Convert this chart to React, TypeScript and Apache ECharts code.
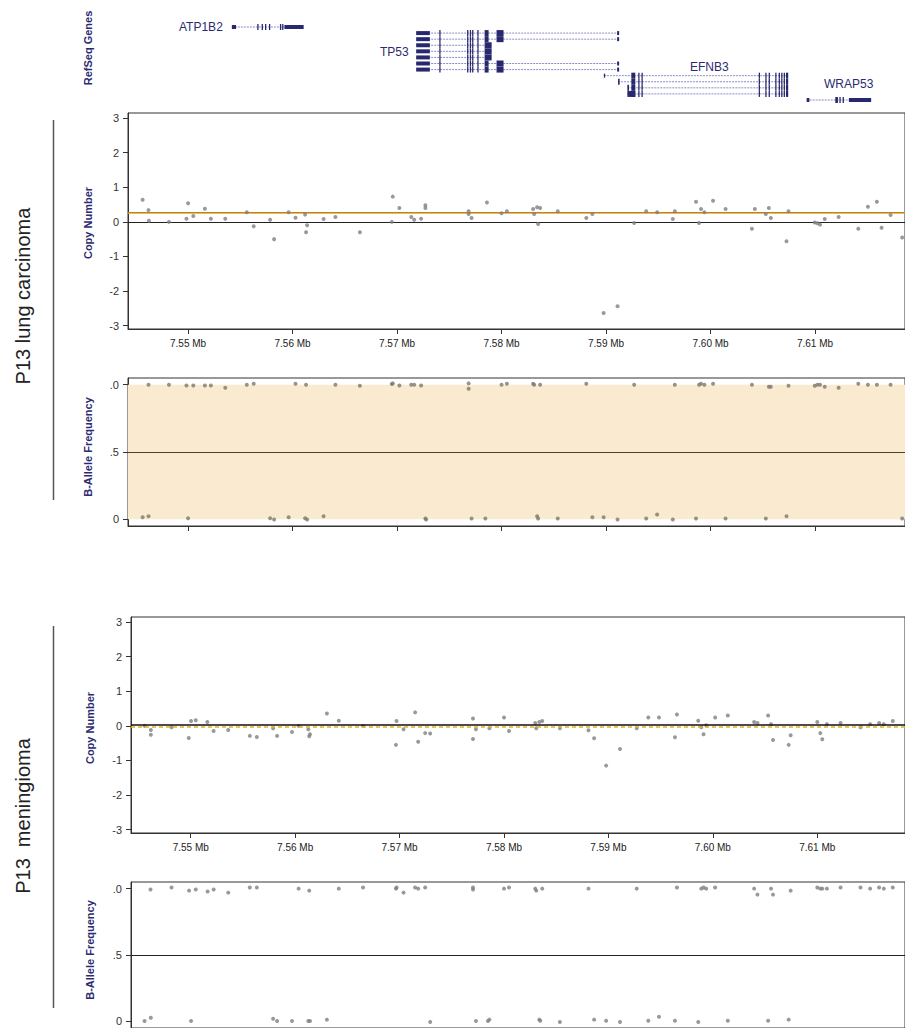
import React, { useEffect, useRef } from 'react';
import * as echarts from 'echarts';

// ---------- tick values ----------
const xTicks = [7550, 7560, 7570, 7580, 7590, 7600, 7610]; // kb
const cnTicks = [-3, -2, -1, 0, 1, 2, 3];
const bafTicks = [0, 0.5, 1];
const bafTickLabels = ['0', '.5', '.0'];

// ---------- P13 lung carcinoma ----------
const lungCN: number[][] = [
  [7545.65, 0.64], [7546.21, 0.34], [7546.25, 0.03], [7548.17, 0.0], [7549.84, 0.09],
  [7550.0, 0.54], [7550.5, 0.17], [7551.61, 0.38], [7552.18, 0.09], [7553.56, 0.09],
  [7555.62, 0.28], [7556.28, -0.13], [7557.85, 0.06], [7558.23, -0.5], [7559.62, 0.28],
  [7560.28, 0.12], [7561.2, 0.21], [7561.39, -0.1], [7561.29, -0.3], [7562.97, 0.08],
  [7564.1, 0.14], [7566.44, -0.3], [7569.5, 0.0], [7569.59, 0.73], [7570.22, 0.4],
  [7571.36, 0.14], [7571.64, 0.06], [7572.3, 0.09], [7572.71, 0.48], [7572.71, 0.4],
  [7576.85, 0.31], [7576.85, 0.23], [7577.13, 0.11], [7578.6, 0.56], [7580.0, 0.25],
  [7580.51, 0.31], [7583.02, 0.37], [7583.12, 0.23], [7583.4, 0.42], [7583.69, 0.4],
  [7583.5, -0.06], [7585.38, 0.31], [7588.11, 0.11], [7588.69, 0.23], [7589.77, -2.64],
  [7591.1, -2.44], [7592.69, -0.03], [7593.84, 0.31], [7594.89, 0.28], [7596.39, 0.08],
  [7596.58, 0.31], [7598.61, 0.58], [7599.09, 0.37], [7599.41, 0.28], [7598.9, -0.03],
  [7600.24, 0.61], [7601.44, 0.37], [7603.96, -0.2], [7604.24, 0.37], [7605.29, 0.23],
  [7605.58, 0.4], [7605.77, 0.11], [7607.27, -0.56], [7607.46, 0.31], [7609.97, -0.02],
  [7610.23, -0.04], [7610.48, -0.08], [7610.93, 0.08], [7612.26, 0.14], [7614.14, -0.2],
  [7615.06, 0.44], [7615.92, 0.58], [7616.37, -0.17], [7617.23, 0.2], [7618.34, -0.45],
];
const lungSegmentMean = 0.25;
const lungSegmentUpper = 0.28;

const lungBAF: number[][] = [
  [7546.21, 1.0], [7548.17, 1.0], [7549.84, 0.995], [7550.5, 0.995], [7551.61, 0.995],
  [7552.18, 0.995], [7553.56, 0.978], [7555.62, 1.0], [7556.28, 1.007], [7560.28, 1.007],
  [7561.29, 1.0], [7564.1, 1.0], [7566.44, 0.993], [7569.5, 1.005], [7569.59, 1.01],
  [7570.22, 0.995], [7571.36, 1.0], [7571.64, 1.0], [7572.3, 0.995], [7576.85, 1.01],
  [7576.85, 0.97],
  [7580.0, 1.0], [7580.51, 1.007], [7583.02, 1.007], [7583.12, 1.0], [7583.69, 1.0],
  [7588.11, 1.007], [7592.69, 1.0], [7596.58, 1.0], [7598.9, 1.0], [7599.09, 1.007],
  [7599.41, 1.0], [7600.24, 1.007], [7603.96, 1.0], [7605.58, 0.985], [7605.77, 0.985],
  [7607.46, 0.993], [7609.97, 0.993], [7610.23, 1.0], [7610.48, 1.0], [7610.93, 0.985],
  [7612.26, 0.978], [7614.14, 1.007], [7615.06, 1.0], [7615.92, 1.0], [7617.23, 1.0],
  [7545.65, 0.015], [7546.21, 0.022], [7550.0, 0.007], [7557.85, 0.007], [7558.23, -0.002],
  [7559.62, 0.015], [7561.2, 0.007], [7561.39, -0.002], [7562.97, 0.022], [7572.71, 0.005],
  [7572.78, -0.002], [7577.13, 0.005], [7578.45, 0.005],
  [7583.4, 0.022], [7583.5, 0.005], [7585.38, 0.005], [7588.69, 0.015], [7589.77, 0.015],
  [7591.1, -0.002], [7593.84, 0.005], [7594.89, 0.035], [7596.39, -0.002], [7598.61, 0.005],
  [7601.44, 0.005], [7605.29, 0.005], [7607.27, 0.022], [7618.34, 0.005],
];

// ---------- P13 meningioma ----------
const menCN: number[][] = [
  [7545.58, 0.0], [7546.18, -0.12], [7546.18, -0.26], [7548.16, -0.04], [7549.81, -0.35],
  [7550.03, 0.14], [7550.48, 0.16], [7551.59, 0.11], [7552.19, -0.15], [7553.59, -0.12],
  [7555.66, -0.29], [7556.33, -0.32], [7557.89, -0.07], [7558.27, -0.29], [7559.7, -0.18],
  [7560.33, 0.0], [7561.26, -0.1], [7561.42, -0.24], [7561.35, -0.3], [7563.04, 0.36],
  [7564.18, 0.15], [7566.5, 0.0], [7569.65, -0.55], [7569.71, 0.14], [7570.38, -0.1],
  [7571.49, 0.39], [7571.78, -0.46], [7572.45, -0.21], [7572.93, -0.22], [7577.03, 0.21],
  [7577.03, -0.38], [7577.31, -0.1], [7578.6, -0.07], [7580.0, 0.24], [7580.48, -0.15],
  [7582.99, 0.08], [7583.09, -0.07], [7583.38, 0.11], [7583.66, 0.14], [7585.35, -0.07],
  [7588.09, -0.13], [7588.63, -0.36], [7589.78, -1.15], [7591.11, -0.67], [7592.71, -0.07],
  [7593.82, 0.24], [7594.84, 0.24], [7596.37, -0.33], [7596.56, 0.33], [7598.6, 0.15],
  [7598.89, -0.04], [7599.11, -0.24], [7599.36, 0.02], [7600.22, 0.24], [7601.43, 0.3],
  [7603.95, 0.11], [7604.27, 0.08], [7605.29, 0.3], [7605.57, 0.05], [7605.76, -0.41],
  [7607.26, -0.55], [7607.45, -0.27], [7610.0, 0.11], [7610.29, -0.21], [7610.48, -0.39],
  [7610.92, 0.05], [7612.23, 0.08], [7614.14, -0.04], [7615.06, 0.05], [7615.92, 0.08],
  [7616.37, 0.05], [7617.23, 0.14],
];
const menSegmentMean = 0.0;

const menBAF: number[][] = [
  [7546.15, 0.993], [7548.16, 1.008], [7549.84, 0.985], [7550.48, 0.993], [7551.62, 0.978],
  [7552.19, 0.993], [7553.59, 0.97], [7555.66, 1.008], [7556.33, 1.008], [7560.33, 1.0],
  [7561.35, 0.985], [7564.18, 1.0], [7566.5, 1.008], [7569.65, 1.0], [7569.71, 1.008],
  [7570.38, 0.97], [7571.49, 1.008], [7571.78, 1.0], [7572.45, 1.008], [7577.03, 1.008],
  [7577.03, 0.993],
  [7580.0, 1.0], [7580.48, 1.008], [7582.99, 1.0], [7583.09, 0.985], [7583.66, 1.0],
  [7588.09, 1.0], [7592.71, 1.0], [7596.56, 1.008], [7598.89, 1.0], [7599.11, 1.008],
  [7599.36, 1.0], [7600.22, 1.008], [7603.95, 1.0], [7604.27, 0.955], [7605.57, 1.0],
  [7605.76, 0.955], [7607.45, 0.985], [7610.0, 1.008], [7610.29, 1.0], [7610.48, 1.0],
  [7610.92, 1.0], [7612.23, 1.008], [7614.14, 1.008], [7615.06, 1.0], [7615.92, 1.008],
  [7616.37, 1.0], [7617.23, 1.008],
  [7545.58, 0.003], [7546.18, 0.028], [7550.03, 0.003], [7557.89, 0.02], [7558.27, 0.003],
  [7559.7, 0.003], [7561.26, 0.003], [7561.42, 0.003], [7563.04, 0.013], [7572.93, -0.005],
  [7577.31, 0.003], [7578.46, 0.003],
  [7578.6, 0.013], [7583.38, 0.013], [7583.47, 0.005], [7585.35, -0.005], [7588.63, 0.013],
  [7589.78, 0.005], [7591.11, -0.005], [7593.82, 0.005], [7594.84, 0.035], [7596.37, 0.005],
  [7598.6, -0.005], [7601.43, 0.005], [7605.29, 0.005], [7607.26, 0.013],
];

// ---------- RefSeq genes (kb, exon kind) ----------
type Exon = [number, number, string];
const atp1b2Exons: Exon[] = [
  [7554.19, 7554.59, 'utr'], [7556.62, 7556.74, 'cds'], [7557.04, 7557.16, 'cds'],
  [7557.36, 7557.48, 'cds'], [7557.74, 7557.86, 'cds'], [7558.79, 7558.91, 'cds'],
  [7559.0, 7559.12, 'cds'], [7559.22, 7561.06, 'utr'],
];
const tp53LongExons: Exon[] = [
  [7571.83, 7573.14, 'utr'], [7574.04, 7574.16, 'cds'], [7576.7, 7576.82, 'cds'],
  [7576.96, 7577.08, 'cds'], [7577.18, 7577.3, 'cds'], [7577.68, 7577.8, 'cds'],
  [7578.38, 7578.76, 'cds'], [7579.52, 7580.19, 'cds'], [7591.06, 7591.25, 'utr'],
];
const tp53ShortExons: Exon[] = [
  [7571.83, 7573.14, 'utr'], [7574.04, 7574.16, 'cds'], [7576.7, 7576.82, 'cds'],
  [7576.96, 7577.08, 'cds'], [7577.18, 7577.3, 'cds'], [7577.68, 7577.8, 'cds'],
  [7578.38, 7579.05, 'cds'],
];
const efnb3Core: Exon[] = [
  [7592.42, 7592.8, 'cds'], [7593.08, 7593.18, 'cds'], [7593.39, 7593.49, 'cds'],
  [7604.61, 7604.71, 'cds'], [7605.24, 7605.34, 'cds'], [7605.56, 7605.66, 'cds'],
  [7606.19, 7606.29, 'cds'], [7606.52, 7606.62, 'cds'], [7606.76, 7606.86, 'cds'],
  [7607.0, 7607.1, 'cds'], [7607.22, 7607.43, 'cds'],
];
const wrap53Exons: Exon[] = [
  [7609.2, 7609.46, 'utr'], [7611.94, 7612.19, 'cds'], [7612.33, 7612.43, 'cds'],
  [7612.64, 7612.74, 'cds'], [7613.24, 7615.37, 'utr'],
];
const transcripts: { gene: string; row: number; exons: Exon[] }[] = [
  { gene: 'ATP1B2', row: 0, exons: atp1b2Exons },
  { gene: 'TP53', row: 1, exons: tp53LongExons },
  { gene: 'TP53', row: 2, exons: tp53LongExons },
  { gene: 'TP53', row: 3, exons: tp53ShortExons },
  { gene: 'TP53', row: 4, exons: tp53ShortExons },
  { gene: 'TP53', row: 5, exons: tp53ShortExons },
  { gene: 'TP53', row: 6, exons: tp53LongExons },
  { gene: 'TP53', row: 7, exons: tp53LongExons },
  { gene: 'EFNB3', row: 8, exons: [[7589.79, 7589.9, 'utr'] as Exon, ...efnb3Core] },
  { gene: 'EFNB3', row: 9, exons: [[7591.15, 7591.3, 'cds'] as Exon, ...efnb3Core] },
  { gene: 'EFNB3', row: 10, exons: [[7592.04, 7592.2, 'cds'] as Exon, ...efnb3Core] },
  { gene: 'EFNB3', row: 11, exons: [[7592.04, 7592.8, 'cds'] as Exon, ...efnb3Core] },
  { gene: 'WRAP53', row: 12, exons: wrap53Exons },
];

const FONT = '"Liberation Sans", Arial, sans-serif';
const NAVY = '#2b2b70';
const DOT = '#808080';

const labelFmt = (v: number) => (v / 1000).toFixed(2) + ' Mb';

function xAxisFor(gridIndex: number, min: number, max: number, labels: boolean, show = true) {
  return {
    type: 'value', gridIndex, min, max, show,
    axisLine: { show: true, onZero: false, lineStyle: { color: '#333', width: 1 } },
    axisTick: { show: true, customValues: xTicks, length: 5, lineStyle: { color: '#333' } },
    axisLabel: {
      show: labels, customValues: xTicks, formatter: labelFmt,
      fontSize: 10, color: '#222', margin: 9, fontFamily: FONT,
    },
    splitLine: { show: false },
  };
}

function yAxisFor(gridIndex: number, kind: 'cn' | 'baf') {
  const isCN = kind === 'cn';
  return {
    type: 'value', gridIndex,
    min: isCN ? -3.1 : -0.05, max: isCN ? 3.15 : 1.05,
    axisLine: { show: true, onZero: false, lineStyle: { color: '#333', width: 1 } },
    axisTick: { show: true, customValues: isCN ? cnTicks : bafTicks, length: 5, lineStyle: { color: '#333' } },
    axisLabel: {
      customValues: isCN ? cnTicks : bafTicks,
      formatter: isCN ? (v: number) => String(v) : (v: number) => bafTickLabels[bafTicks.indexOf(v)] ?? '',
      fontSize: 11, color: '#333', margin: 9, fontFamily: FONT,
    },
    splitLine: { show: false },
  };
}

function vText(x: number, y: number, text: string, font: string, fill: string) {
  return {
    type: 'text', x, y, rotation: Math.PI / 2,
    style: { text, font, fill, align: 'center', verticalAlign: 'middle' },
  };
}

function hText(x: number, y: number, text: string) {
  return {
    type: 'text', x, y,
    style: { text, font: `12px ${FONT}`, fill: NAVY, align: 'left', verticalAlign: 'middle' },
  };
}

export default function App() {
  const ref = useRef<HTMLDivElement>(null);
  useEffect(() => {
    if (!ref.current) return;
    const chart = echarts.init(ref.current, undefined, { renderer: 'svg' });
    const A_MIN = 7544.25, A_MAX = 7618.61;
    const B_MIN = 7544.28, B_MAX = 7618.4;
    const frame = { show: true, borderColor: '#333', borderWidth: 1, backgroundColor: 'transparent' };
    const dotStyle = { color: DOT };

    const option: any = {
      animation: false,
      grid: [
        { left: 128, right: -3, top: 27, height: 73, show: false },
        { left: 128, right: -3, top: 113, height: 216, ...frame },
        { left: 128, right: -3, top: 378, height: 148, ...frame },
        { left: 131, right: -3, top: 617, height: 216, ...frame },
        { left: 131, right: -3, top: 882, height: 148, ...frame },
      ],
      xAxis: [
        { ...xAxisFor(0, A_MIN, A_MAX, false, false) },
        xAxisFor(1, A_MIN, A_MAX, true),
        xAxisFor(2, A_MIN, A_MAX, false),
        xAxisFor(3, B_MIN, B_MAX, true),
        xAxisFor(4, B_MIN, B_MAX, false),
      ],
      yAxis: [
        { type: 'value', gridIndex: 0, min: 0, max: 12, inverse: true, show: false },
        yAxisFor(1, 'cn'),
        yAxisFor(2, 'baf'),
        yAxisFor(3, 'cn'),
        yAxisFor(4, 'baf'),
      ],
      series: [
        {
          type: 'custom', xAxisIndex: 0, yAxisIndex: 0, clip: false,
          data: transcripts.map((t) => [t.exons[0][0], t.row, t.exons[t.exons.length - 1][1]]),
          renderItem: (params: any, api: any) => {
            const t = transcripts[params.dataIndex];
            const start = api.value(0), end = api.value(2), row = api.value(1);
            const p0 = api.coord([start, row]);
            const p1 = api.coord([end, row]);
            const y = p0[1];
            const children: any[] = [
              {
                type: 'line', shape: { x1: p0[0], y1: y, x2: p1[0], y2: y },
                style: { stroke: '#8c8cc8', lineWidth: 1, lineDash: [2, 1] },
              },
            ];
            t.exons.forEach(([s, e, k]) => {
              const a = api.coord([s, row])[0];
              const b = api.coord([e, row])[0];
              const h = k === 'cds' ? 6 : 4;
              children.push({
                type: 'rect',
                shape: { x: a, y: y - h / 2, width: Math.max(b - a, 1.3), height: h },
                style: { fill: '#28286e' },
              });
            });
            return { type: 'group', children };
          },
        },
        {
          type: 'scatter', xAxisIndex: 1, yAxisIndex: 1, data: lungCN, symbolSize: 4,
          itemStyle: dotStyle, z: 3,
          markLine: {
            silent: true, symbol: 'none', label: { show: false }, z: 2,
            data: [
              { yAxis: 0, lineStyle: { color: '#222', width: 1, type: 'solid' } },
              { yAxis: lungSegmentUpper, lineStyle: { color: '#333', width: 1, type: 'solid' } },
              { yAxis: lungSegmentMean, lineStyle: { color: '#E8A020', width: 1.5, type: 'solid' } },
            ],
          },
        },
        {
          type: 'scatter', xAxisIndex: 2, yAxisIndex: 2, data: lungBAF, symbolSize: 4,
          itemStyle: { color: '#7d7870' }, z: 3,
          markArea: {
            silent: true, itemStyle: { color: '#FAEBD0' },
            data: [[{ yAxis: 0 }, { yAxis: 1 }]],
          },
          markLine: {
            silent: true, symbol: 'none', label: { show: false },
            data: [{ yAxis: 0.5, lineStyle: { color: '#4a3f33', width: 1, type: 'solid' } }],
          },
        },
        {
          type: 'scatter', xAxisIndex: 3, yAxisIndex: 3, data: menCN, symbolSize: 4,
          itemStyle: dotStyle, z: 3,
          markLine: {
            silent: true, symbol: 'none', label: { show: false },
            data: [
              { yAxis: menSegmentMean + 0.02, lineStyle: { color: '#111', width: 1.5, type: 'solid' } },
              { yAxis: menSegmentMean - 0.03, lineStyle: { color: '#E8B020', width: 1.5, type: [4, 3] } },
            ],
          },
        },
        {
          type: 'scatter', xAxisIndex: 4, yAxisIndex: 4, data: menBAF, symbolSize: 4,
          itemStyle: dotStyle, z: 3,
          markLine: {
            silent: true, symbol: 'none', label: { show: false },
            data: [{ yAxis: 0.5, lineStyle: { color: '#222', width: 1, type: 'solid' } }],
          },
        },
      ],
      graphic: [
        vText(88, 48, 'RefSeq Genes', `bold 11px ${FONT}`, NAVY),
        vText(88, 223, 'Copy Number', `bold 11px ${FONT}`, NAVY),
        vText(88, 447, 'B-Allele Frequency', `bold 11px ${FONT}`, NAVY),
        vText(90, 728, 'Copy Number', `bold 11px ${FONT}`, NAVY),
        vText(90, 950, 'B-Allele Frequency', `bold 11px ${FONT}`, NAVY),
        vText(23, 296, 'P13 lung carcinoma', `20px ${FONT}`, '#222'),
        vText(23, 816, 'P13  meningioma', `20px ${FONT}`, '#222'),
        { type: 'line', shape: { x1: 53.5, y1: 120, x2: 53.5, y2: 500 }, style: { stroke: '#555', lineWidth: 1.5 } },
        { type: 'line', shape: { x1: 53.5, y1: 626, x2: 53.5, y2: 1008 }, style: { stroke: '#555', lineWidth: 1.5 } },
        { ...hText(179, 27, 'ATP1B2') },
        { ...hText(380, 52, 'TP53') },
        { ...hText(690, 67, 'EFNB3') },
        { ...hText(824, 84, 'WRAP53') },
      ],
    };
    chart.setOption(option);
    return () => chart.dispose();
  }, []);
  return (
    <div
      ref={ref}
      style={{ position: 'absolute', left: 0, top: 0, width: 905, height: 1028, background: '#fff' }}
    />
  );
}
